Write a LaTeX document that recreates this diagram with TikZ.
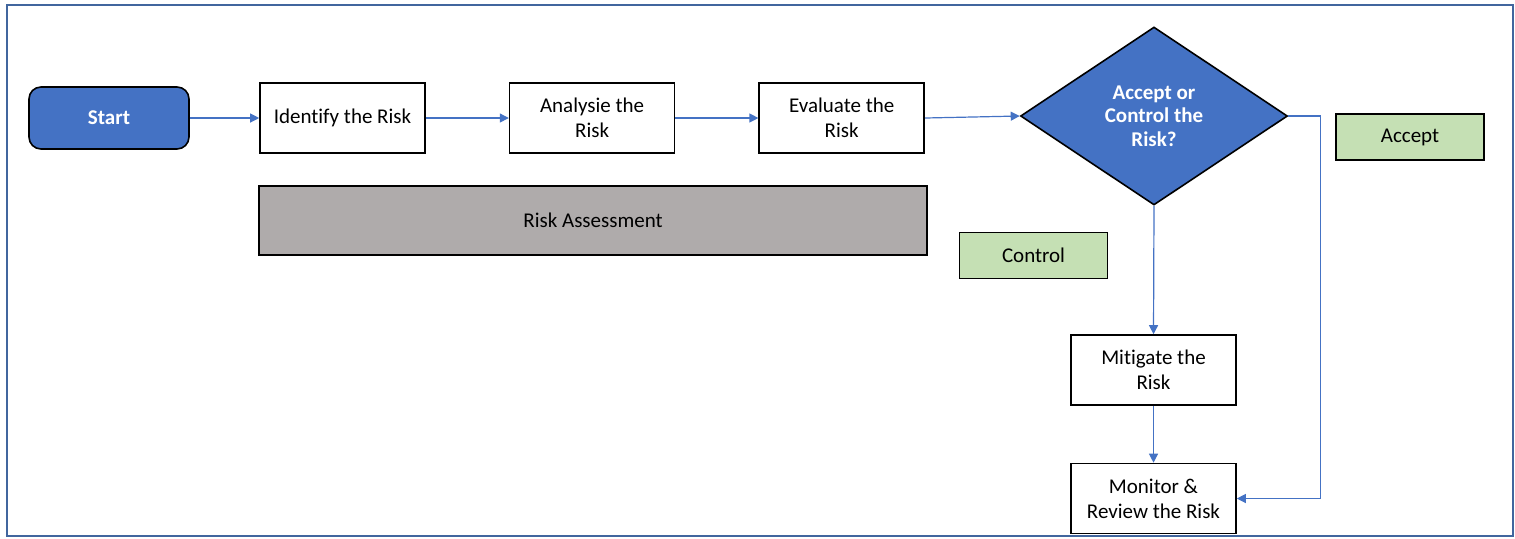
\documentclass[tikz,border=0pt]{standalone}
\usepackage{fontspec}
\setmainfont{Carlito}[Ligatures=NoCommon]
\usetikzlibrary{calc,shapes,arrows,arrows.meta,chains,positioning}
\usepackage{color}

\definecolor{flowblue}{HTML}{4472C4}
\definecolor{framecol}{HTML}{41669E}
\definecolor{optgreen}{HTML}{C5E0B4}
\definecolor{assessgrey}{HTML}{AFABAB}

\tikzset{
  every node/.style={font=\fontsize{10.5}{12.5}\selectfont},
  stepbox/.style={draw=black, line width=0.8pt, fill=white, align=center,
    minimum width=82.5pt, minimum height=35pt, inner sep=1pt},
  startbox/.style={draw=black, line width=0.8pt, fill=flowblue, rounded corners=6pt,
    minimum width=80pt, minimum height=31pt, text=white, font=\fontsize{10.5}{12.5}\selectfont\bfseries},
  choice/.style={draw=black, line width=0.8pt, fill=optgreen,
    minimum width=74pt, minimum height=23pt},
  flow/.style={draw=flowblue, line width=0.6pt, -{Triangle[length=4.5pt,width=4.5pt]}}
}

\begin{document}
\begin{tikzpicture}[x=0.5pt,y=-0.5pt]
\useasboundingbox (0,0) rectangle (1515,538);
\draw[framecol, line width=1pt] (7,5) rectangle (1513,536);

\node [startbox] (start) at (109,118) {Start};

\begin{scope}[shift={(342.5,118)},start chain=going right,node distance=41.5pt]
\def\steps{1/{Identify the Risk},2/{Analysie the\\Risk},3/{Evaluate the\\Risk}}
\foreach \i / \element in \steps
  \node [stepbox,on chain] (r\i) {\element};
\end{scope}

\node [draw=black, line width=0.8pt, fill=assessgrey, minimum width=334pt, minimum height=34.5pt]
  (assess) at (593,220.5) {Risk Assessment};

\node [diamond, aspect=1.5, draw=black, line width=0.8pt, fill=flowblue, inner sep=0pt,
  minimum width=133.5pt, minimum height=89pt, align=center, text=white,
  font=\fontsize{10.5}{11.8}\selectfont\bfseries] (decide) at (1154,116)
  {Accept or\\Control the\\Risk?};

\node [choice] (accept) at (1410,137) {Accept};
\node [choice] (control) at (1033.5,255.5) {Control};

\node [stepbox] (mitigate) at (1153.5,370) {Mitigate the\\Risk};
\node [stepbox] (monitor) at (1153.5,498.5) {Monitor \&\\Review the Risk};

\coordinate (bend) at ($(decide.east)+(32,0)$);

\draw[flow] (start) -- (r1);
\draw[flow] (r1) -- (r2);
\draw[flow] (r2) -- (r3);
\draw[flow] (r3.east) -- (decide.west);
\draw[flow] (decide.south) -- (mitigate.north);
\draw[flow] (mitigate) -- (monitor);
\draw[flow] (decide.east) -- (bend) |- (monitor.east);

\end{tikzpicture}
\end{document}
